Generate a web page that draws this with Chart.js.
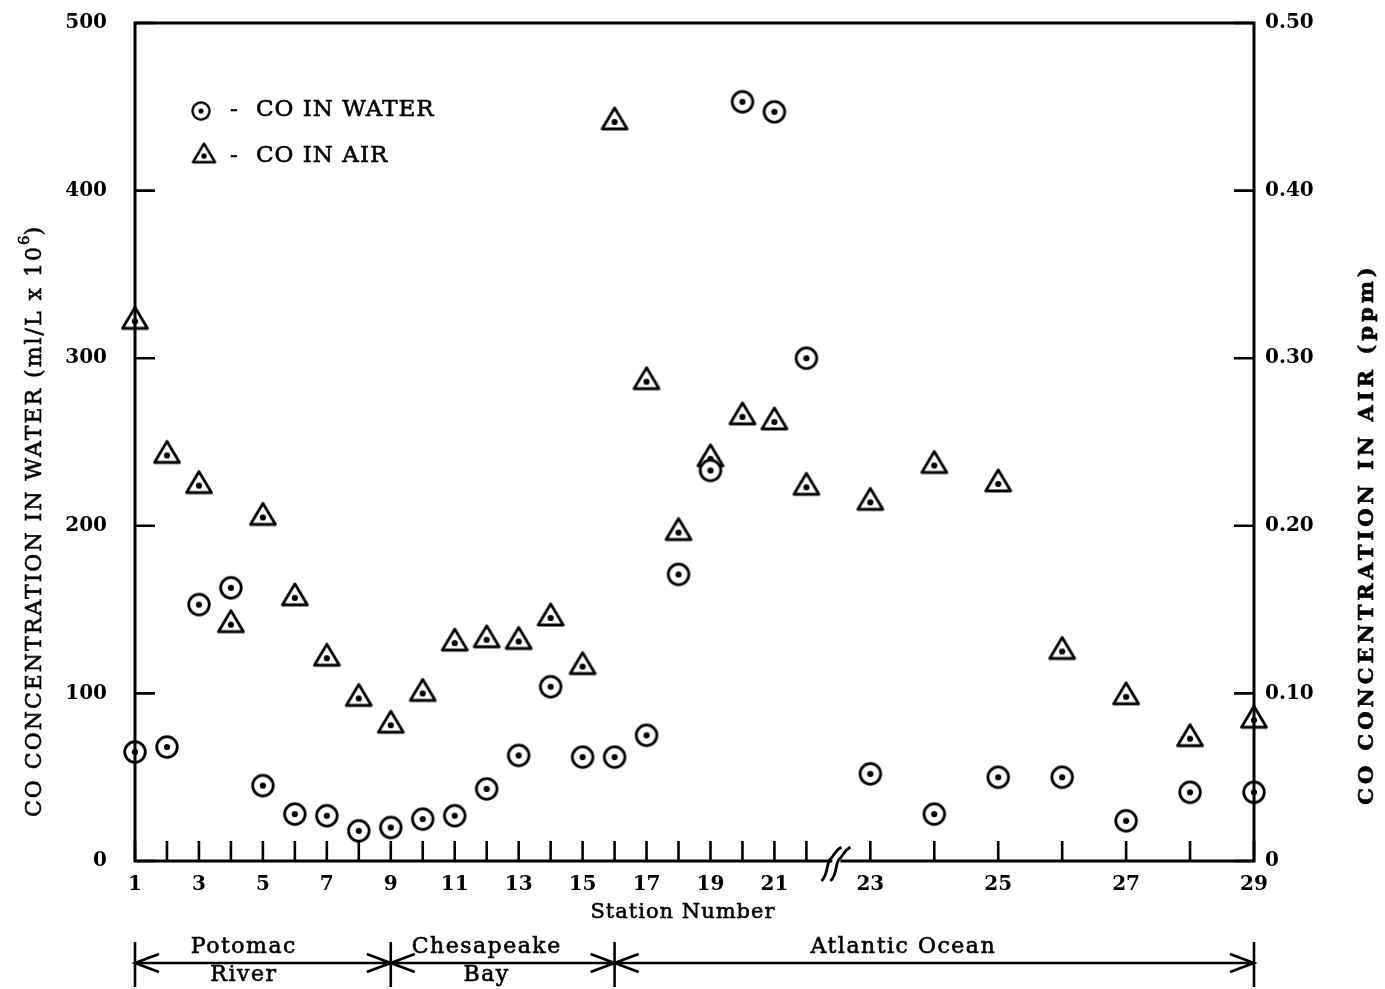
<!DOCTYPE html>
<html>
<head>
<meta charset="utf-8">
<title>CO concentration by station</title>
<script src="https://cdn.jsdelivr.net/npm/chart.js@4.4.1/dist/chart.umd.min.js"></script>
<style>
  html, body { margin: 0; padding: 0; background: #fff; }
  #wrap { width: 1385px; height: 989px; position: relative; }
</style>
</head>
<body>
<div id="wrap"><canvas id="coChart"></canvas></div>
<script>
// station numbers along the track
const stations = [1, 2, 3, 4, 5, 6, 7, 8, 9, 10, 11, 12, 13, 14, 15, 16, 17, 18, 19, 20, 21, 22, 23, 24, 25, 26, 27, 28, 29];
// CO dissolved in the water, ml/L x 10^6
const waterCO = [65, 68, 153, 163, 45, 28, 27, 18, 20, 25, 27, 43, 63, 104, 62, 62, 75, 171, 233, 453, 447, 300, 52, 28, 50, 50, 24, 41, 41];
// CO in the air, ppm
const airCO = [0.322, 0.242, 0.224, 0.141, 0.205, 0.157, 0.121, 0.097, 0.081, 0.100, 0.130, 0.132, 0.131, 0.145, 0.116, 0.441, 0.286, 0.196, 0.240, 0.265, 0.262, 0.223, 0.214, 0.236, 0.225, 0.125, 0.098, 0.073, 0.084];

// axis ticks
const stationLabels = [1, 3, 5, 7, 9, 11, 13, 15, 17, 19, 21, 23, 25, 27, 29];
const waterTicks = [0, 100, 200, 300, 400, 500];
const airTicks = [0, 0.1, 0.2, 0.3, 0.4, 0.5];

// water bodies along the track
const regionNames = [['Potomac', 'River'], ['Chesapeake', 'Bay'], ['Atlantic Ocean']];
const regionBounds = [1, 9, 16, 29];

// axis is broken after station 22, the stations past it are spaced twice as wide
const BREAK_AFTER = 22;
function stationPos(s) {
  return s <= BREAK_AFTER ? s : BREAK_AFTER + 2 * (s - BREAK_AFTER);
}
const posToStation = {};
stations.forEach(s => { posToStation[stationPos(s)] = s; });

const SERIF = '"DejaVu Serif", serif';

// open circle / triangle with a dot in the middle
function makeMarker(kind) {
  const c = document.createElement('canvas');
  c.width = 34; c.height = 34;
  const g = c.getContext('2d');
  g.strokeStyle = '#000';
  g.fillStyle = '#fff';
  g.lineWidth = 2.8;
  g.lineJoin = 'round';
  g.beginPath();
  if (kind === 'circle') {
    g.arc(17, 17, 10.3, 0, Math.PI * 2);
  } else {
    g.moveTo(17, 3);
    g.lineTo(29.5, 24);
    g.lineTo(4.5, 24);
    g.closePath();
  }
  g.fill();
  g.stroke();
  g.fillStyle = '#000';
  g.beginPath();
  g.arc(17, 17, 3.1, 0, Math.PI * 2);
  g.fill();
  return c;
}
const circleMark = makeMarker('circle');
const triMark = makeMarker('triangle');

function arrowHead(ctx, x, y, dir) {
  ctx.moveTo(x + dir * 24, y - 9);
  ctx.lineTo(x, y);
  ctx.lineTo(x + dir * 24, y + 9);
}

// filled text with a thin outline so the regular weight prints a bit heavier
function heavyText(ctx, text, x, y) {
  ctx.fillText(text, x, y);
  ctx.strokeText(text, x, y);
}

// vertical text drawn bottom-to-top, centred on (cx, cy)
function drawUpText(ctx, parts, cx, cy) {
  ctx.save();
  ctx.translate(cx, cy);
  ctx.rotate(-Math.PI / 2);
  ctx.textAlign = 'left';
  let total = 0;
  parts.forEach(p => {
    ctx.font = p.font;
    ctx.letterSpacing = p.spacing || '0px';
    p.w = ctx.measureText(p.text).width;
    total += p.w;
  });
  let sx = -total / 2;
  parts.forEach(p => {
    ctx.font = p.font;
    ctx.letterSpacing = p.spacing || '0px';
    heavyText(ctx, p.text, sx, p.dy || 0);
    sx += p.w;
  });
  ctx.restore();
}

const decorations = {
  id: 'decorations',
  afterDatasetsDraw(chart) {
    const { ctx, chartArea: a, scales } = chart;
    const xs = scales.x, ys = scales.y, ys2 = scales.y2;
    ctx.save();
    ctx.strokeStyle = '#000';
    ctx.lineWidth = 3;
    ctx.strokeRect(a.left, a.top, a.right - a.left, a.bottom - a.top);

    // inward tick marks
    ctx.lineWidth = 2.6;
    ctx.beginPath();
    stations.forEach(s => {
      const px = xs.getPixelForValue(stationPos(s));
      ctx.moveTo(px, a.bottom);
      ctx.lineTo(px, a.bottom - 20);
    });
    waterTicks.forEach(v => {
      const py = ys.getPixelForValue(v);
      ctx.moveTo(a.left, py);
      ctx.lineTo(a.left + 20, py);
    });
    airTicks.forEach(v => {
      const py = ys2.getPixelForValue(v);
      ctx.moveTo(a.right, py);
      ctx.lineTo(a.right - 20, py);
    });
    ctx.stroke();

    // break symbol on the station axis
    const bx = (xs.getPixelForValue(stationPos(22)) + xs.getPixelForValue(stationPos(23))) / 2 - 2;
    const by = a.bottom + 3;
    ctx.fillStyle = '#fff';
    ctx.fillRect(bx - 4, by - 5, 8, 6);
    ctx.lineWidth = 2.8;
    [-5, 4].forEach(off => {
      ctx.beginPath();
      ctx.moveTo(bx + off - 10, by + 17);
      ctx.bezierCurveTo(bx + off - 2, by + 10, bx + off - 6, by - 2, bx + off, by - 6);
      ctx.bezierCurveTo(bx + off + 4, by - 10, bx + off + 2, by - 12, bx + off + 10, by - 17);
      ctx.stroke();
    });
    ctx.restore();
  },
  afterDraw(chart) {
    const { ctx, scales } = chart;
    const xs = scales.x;
    ctx.save();
    ctx.fillStyle = '#000';
    ctx.strokeStyle = '#000';
    ctx.lineWidth = 0.6;
    ctx.textBaseline = 'middle';

    // legend
    ctx.drawImage(circleMark, 201 - 14, 111 - 14, 28, 28);
    ctx.drawImage(triMark, 204 - 15, 156 - 15, 30, 30);
    ctx.font = '23px ' + SERIF;
    ctx.textAlign = 'center';
    heavyText(ctx, '-', 234, 110);
    heavyText(ctx, '-', 234, 156);
    ctx.textAlign = 'left';
    ctx.letterSpacing = '1px';
    heavyText(ctx, 'CO IN WATER', 256, 110);
    heavyText(ctx, 'CO IN AIR', 256, 156);

    // station axis title
    ctx.textAlign = 'center';
    ctx.font = '21px ' + SERIF;
    heavyText(ctx, 'Station Number', 683, 913);
    ctx.letterSpacing = '0px';

    // left and right axis titles
    drawUpText(ctx, [
      { text: 'CO CONCENTRATION IN WATER (ml/L x 10', font: '22px ' + SERIF, spacing: '2px' },
      { text: '6', font: '15px ' + SERIF, dy: -10 },
      { text: ')', font: '22px ' + SERIF }
    ], 35, 522);
    drawUpText(ctx, [
      { text: 'CO CONCENTRATION IN AIR (ppm)', font: 'bold 21px ' + SERIF, spacing: '4px' }
    ], 1368, 534);

    // water body spans below the station axis
    const lineY = 963;
    const bounds = regionBounds.map(s => xs.getPixelForValue(stationPos(s)));
    ctx.lineWidth = 2.6;
    ctx.beginPath();
    ctx.moveTo(bounds[0], lineY);
    ctx.lineTo(bounds[bounds.length - 1], lineY);
    bounds.forEach((bx, i) => {
      ctx.moveTo(bx, lineY - 21);
      ctx.lineTo(bx, lineY + 24);
      if (i > 0) arrowHead(ctx, bx, lineY, -1);
      if (i < bounds.length - 1) arrowHead(ctx, bx, lineY, 1);
    });
    ctx.stroke();

    const labelShift = [-19, -16, -31];
    ctx.lineWidth = 0.6;
    ctx.font = '22px ' + SERIF;
    ctx.letterSpacing = '1.5px';
    ctx.textAlign = 'center';
    regionNames.forEach((lines, i) => {
      const cx = (bounds[i] + bounds[i + 1]) / 2 + labelShift[i];
      heavyText(ctx, lines[0], cx, 947);
      if (lines[1]) heavyText(ctx, lines[1], cx, 975);
    });
    ctx.restore();
  }
};

Chart.defaults.font.family = SERIF;
Chart.defaults.color = '#000';

// keep the plot area fixed: no extra room reserved for end tick labels
function noEdgePadding(scale) {
  scale.paddingTop = 0;
  scale.paddingBottom = 0;
  scale.paddingLeft = 0;
  scale.paddingRight = 0;
}

new Chart(document.getElementById('coChart'), {
  type: 'scatter',
  data: {
    datasets: [
      {
        label: 'CO IN WATER',
        data: stations.map((s, i) => ({ x: stationPos(s), y: waterCO[i] })),
        yAxisID: 'y',
        pointStyle: circleMark,
        pointRadius: 12,
        clip: false
      },
      {
        label: 'CO IN AIR',
        data: stations.map((s, i) => ({ x: stationPos(s), y: airCO[i] })),
        yAxisID: 'y2',
        pointStyle: triMark,
        pointRadius: 12,
        clip: false
      }
    ]
  },
  options: {
    responsive: true,
    maintainAspectRatio: false,
    animation: false,
    layout: { padding: { top: 23, left: 0, right: 0, bottom: 0 } },
    plugins: {
      legend: { display: false },
      tooltip: { enabled: false }
    },
    scales: {
      x: {
        type: 'linear',
        position: 'bottom',
        min: stationPos(1),
        max: stationPos(29),
        grid: { display: false, drawTicks: false },
        border: { display: false },
        afterBuildTicks(scale) {
          scale.ticks = stationLabels.map(s => ({ value: stationPos(s) }));
        },
        afterFit(scale) { scale.height = 128; noEdgePadding(scale); },
        ticks: {
          autoSkip: false,
          maxRotation: 0,
          padding: 12,
          font: { size: 20, weight: 'bold' },
          callback: v => String(posToStation[v])
        }
      },
      y: {
        position: 'left',
        min: 0,
        max: 500,
        grid: { display: false, drawTicks: false },
        border: { display: false },
        afterBuildTicks(scale) {
          scale.ticks = waterTicks.map(v => ({ value: v }));
        },
        afterFit(scale) { scale.width = 135; noEdgePadding(scale); },
        ticks: {
          padding: 28,
          font: { size: 20, weight: 'bold' },
          callback: v => String(v)
        }
      },
      y2: {
        position: 'right',
        min: 0,
        max: 0.5,
        grid: { display: false, drawTicks: false },
        border: { display: false },
        afterBuildTicks(scale) {
          scale.ticks = airTicks.map(v => ({ value: v }));
        },
        afterFit(scale) { scale.width = 131; noEdgePadding(scale); },
        ticks: {
          padding: 11,
          font: { size: 20, weight: 'bold' },
          callback: v => (v === 0 ? '0' : v.toFixed(2))
        }
      }
    }
  },
  plugins: [decorations]
});
</script>
</body>
</html>
